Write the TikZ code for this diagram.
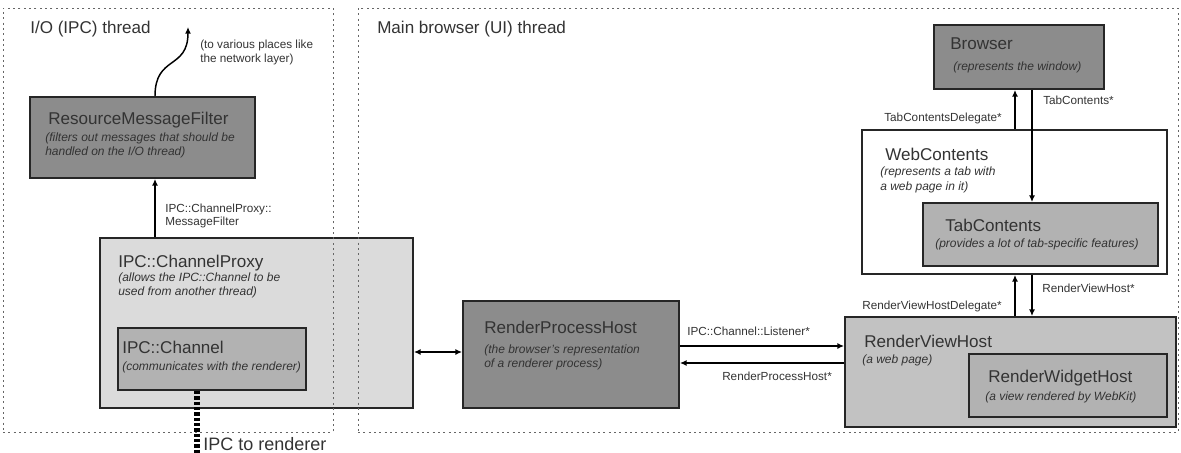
\documentclass[tikz,border=0pt]{standalone}
\usepackage{fontspec}
\setmainfont{Liberation Sans}
\usetikzlibrary{positioning,arrows.meta,calc,fit}

\begin{document}
\begin{tikzpicture}[x=0.75pt,y=-0.75pt,
    >={Latex[length=5pt,width=4.5pt]},
    box/.style={draw=black!85,line width=1.4pt,inner sep=0pt},
    dkbox/.style={box,fill=black!45},
    mdbox/.style={box,fill=black!30},
    ltbox/.style={box,fill=black!14},
    thr/.style={draw=black!60,line width=0.6pt,dash pattern=on 1.5pt off 2.5pt,inner sep=0pt},
    arr/.style={line width=1.1pt,->},
    ipc/.style={line width=4.5pt,dash pattern=on 2.5pt off 1.5pt},
    ttl/.style={anchor=base west,font=\fontsize{12.8}{15}\selectfont},
    sub/.style={anchor=base west,font=\fontsize{9}{11}\selectfont\itshape},
    lbl/.style={anchor=base west,font=\fontsize{8.8}{10}\selectfont},
    every node/.style={inner sep=0pt,text=black!80}]
  \useasboundingbox (0,0) rectangle (1181,453);
  % boxes
  \node[ltbox,fit={(100,238) (413,408)}] (cp) {};
  \node[mdbox,fit={(118,328) (306,390)}] (ch) {};
  \node[dkbox,fit={(30,97) (255,178)}] (rmf) {};
  \node[dkbox,fit={(463,301) (679,408)}] (rph) {};
  \node[box,fill=black!24,fit={(845,317) (1176,427)}] (rvh) {};
  \node[mdbox,fit={(969,354) (1167,417)}] (rwh) {};
  \node[box,fill=white,fit={(862,130) (1167,274)}] (wc) {};
  \node[mdbox,fit={(923,203) (1158,266)}] (tc) {};
  \node[dkbox,fit={(934,25) (1104,89)}] (br) {};
  % threads
  \node[thr,fit={(3,8) (333,432)}] (io) {};
  \node[thr,fit={(358,8) (1178,432)}] (ui) {};
  \node[ttl] (iot) at (30,34) {I/O (IPC) thread};
  \node[ttl] (uit) at (377,34) {Main browser (UI) thread};
  % texts
  \node[ttl] (rmft) at (48,124) {ResourceMessageFilter};
  \node[sub] (rmfs1) at (45,142) {(filters out messages that should be};
  \node[sub] (rmfs2) at (45,155) {handled on the I/O thread)};
  \node[ttl] (cpt) at (118,267) {IPC::ChannelProxy};
  \node[sub] (cps1) at (118,281) {(allows the IPC::Channel to be};
  \node[sub] (cps2) at (118,295) {used from another thread)};
  \node[ttl] (cht) at (122,353) {IPC::Channel};
  \node[sub] (chs) at (122,370) {(communicates with the renderer)};
  \node[ttl] (rpht) at (484,333) {RenderProcessHost};
  \node[sub] (rphs1) at (484,353) {(the browser's representation};
  \node[sub] (rphs2) at (484,367) {of a renderer process)};
  \node[ttl] (rvht) at (864,347) {RenderViewHost};
  \node[sub] (rvhs) at (862,363) {(a web page)};
  \node[ttl] (rwht) at (988,382) {RenderWidgetHost};
  \node[sub] (rwhs) at (985,400) {(a view rendered by WebKit)};
  \node[ttl] (wct) at (885,160) {WebContents};
  \node[sub] (wcs1) at (880,175) {(represents a tab with};
  \node[sub] (wcs2) at (880,190) {a web page in it)};
  \node[ttl] (tct) at (945,231) {TabContents};
  \node[sub] (tcs) at (935,247) {(provides a lot of tab-specific features)};
  \node[ttl] (brt) at (950,50) {Browser};
  \node[sub] (brs) at (953,71) {(represents the window)};
  % connectors
  \coordinate (rmfx) at (155,0);
  \coordinate (net) at (188,27);
  \draw[arr] (cp.north -| rmfx) -- (rmf.south -| rmfx);
  \draw[arr] (rmf.north -| rmfx) .. controls (155,55) and (188,70) .. (net);
  \node[lbl] (netl1) at (200,49) {(to various places like};
  \node[lbl] (netl2) at (200,63) {the network layer)};
  \node[lbl] (mfl1) at (165,212) {IPC::ChannelProxy::};
  \node[lbl] (mfl2) at (165,225) {MessageFilter};
  \coordinate (cpy) at (0,352);
  \draw[arr,<->] (cp.east |- cpy) -- (rph.west |- cpy);
  \coordinate (lisy) at (0,346);
  \coordinate (rphy) at (0,363);
  \draw[arr] (rph.east |- lisy) -- (rvh.west |- lisy);
  \draw[arr] (rvh.west |- rphy) -- (rph.east |- rphy);
  \node[lbl] (lisl) at (687,335) {IPC::Channel::Listener*};
  \node[lbl] (rphl) at (722,380) {RenderProcessHost*};
  \coordinate (upx) at (1015,0);
  \coordinate (dnx) at (1032,0);
  \draw[arr] (wc.north -| upx) -- (br.south -| upx);
  \draw[arr] (br.south -| dnx) -- (tc.north -| dnx);
  \draw[arr] (rvh.north -| upx) -- (wc.south -| upx);
  \draw[arr] (wc.south -| dnx) -- (rvh.north -| dnx);
  \node[lbl,anchor=base east] (tcdl) at (1002,121) {TabContentsDelegate*};
  \node[lbl] (tcl) at (1043,104) {TabContents*};
  \node[lbl,anchor=base east] (rvdl) at (1002,309) {RenderViewHostDelegate*};
  \node[lbl] (rvl) at (1042,292) {RenderViewHost*};
  % IPC to renderer
  \coordinate (ipcend) at (197,453);
  \draw[ipc] (ch.south -| ipcend) -- (ipcend);
  \node[ttl,font=\fontsize{13.5}{15}\selectfont] (ipct) at (203,450) {IPC to renderer};
\end{tikzpicture}
\end{document}
